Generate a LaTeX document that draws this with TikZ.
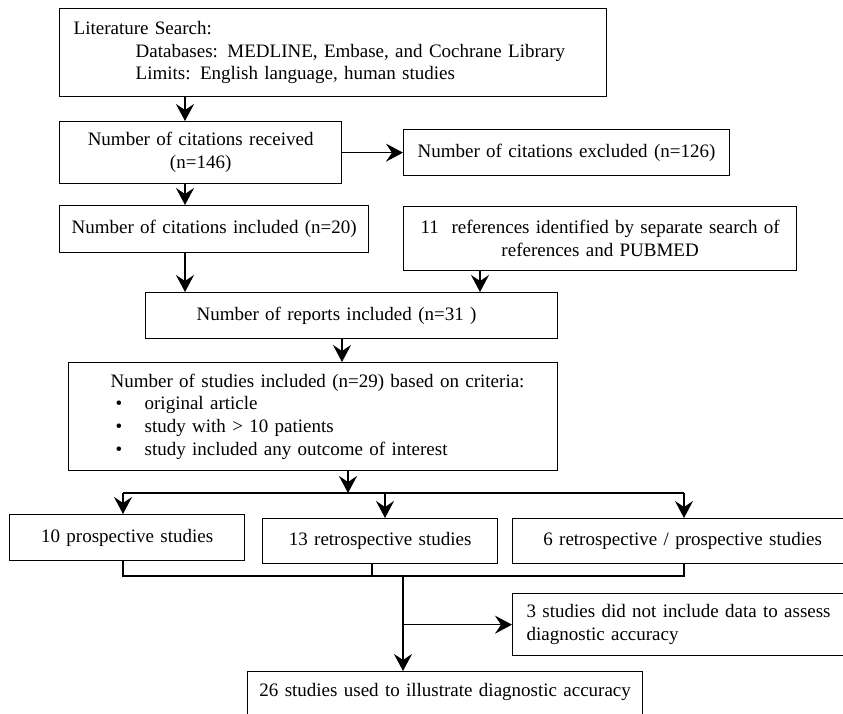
\documentclass[tikz,border=0pt]{standalone}
\usepackage{fontspec}
\setmainfont{Liberation Serif}
\usetikzlibrary{arrows.meta}
\tikzset{
  box/.style={draw, line width=1.3pt, inner sep=0pt, anchor=north west, font=\fontsize{19}{22.7}\selectfont},
  lbox/.style={box, align=left},
  cbox/.style={box, align=center},
  arr/.style={line width=1.5pt, -{Stealth[length=17pt,width=18pt,inset=6pt]}},
  ln/.style={line width=1.5pt},
}
\begin{document}
\begin{tikzpicture}[x=1pt,y=-1pt]
\useasboundingbox (0,0) rectangle (843,713);
\clip (0,0) rectangle (843,713);
% boxes
\node[lbox, minimum width=547pt, minimum height=88pt, text width=547pt] (lit) at (59,8)
  {\hspace*{14pt}Literature Search:\\
   \hspace*{76pt}Databases: MEDLINE, Embase, and Cochrane Library\\
   \hspace*{76pt}Limits: English language, human studies};
\node[cbox, minimum width=282pt, minimum height=62pt, text width=282pt] (recv) at (59,121)
  {Number of citations received\\(n=146)};
\node[lbox, minimum width=326pt, minimum height=46pt, text width=326pt] (excl) at (403,129)
  {\hspace*{14pt}Number of citations excluded (n=126)};
\node[cbox, minimum width=309pt, minimum height=47pt, text width=309pt] (incl) at (59,205)
  {Number of citations included (n=20)};
\node[cbox, minimum width=393pt, minimum height=64pt, text width=373pt] (refs) at (403,206)
  {11\ \ references identified by separate search of\\references and PUBMED};
\node[lbox, minimum width=412pt, minimum height=46pt, text width=412pt] (rep) at (145,292)
  {\hspace*{51pt}Number of reports included (n=31 )};
\node[lbox, minimum width=489pt, minimum height=108pt, text width=489pt] (stud) at (68,362)
  {\hspace*{42pt}Number of studies included (n=29) based on criteria:\\
   \hspace*{47pt}\makebox[29pt][l]{\textbullet}original article\\
   \hspace*{47pt}\makebox[29pt][l]{\textbullet}study with > 10 patients\\
   \hspace*{47pt}\makebox[29pt][l]{\textbullet}study included any outcome of interest};
\node[cbox, minimum width=235pt, minimum height=46pt, text width=235pt] (pro) at (9,514)
  {10 prospective studies};
\node[cbox, minimum width=235pt, minimum height=45pt, text width=235pt] (retro) at (262,518)
  {13 retrospective studies};
\node[cbox, minimum width=340pt, minimum height=45pt, text width=340pt] (both) at (512,518)
  {6 retrospective / prospective studies};
\node[lbox, minimum width=340pt, minimum height=62pt, text width=340pt] (nodata) at (512,593)
  {\hspace*{14pt}3 studies did not include data to assess\\\hspace*{14pt}diagnostic accuracy};
\node[cbox, text width=395pt, text height=25pt, text depth=40pt] (used) at (247,671)
  {26 studies used to illustrate diagnostic accuracy};
% helper coordinates
\coordinate (xa) at (185,0);
\coordinate (xb) at (480,0);
\coordinate (xc) at (342,0);
\coordinate (xd) at (348,493);
\coordinate (j1) at (123,493);
\coordinate (j2) at (684,493);
\coordinate (jm) at (385,493);
\coordinate (k1) at (123,576);
\coordinate (k2) at (684,576);
\coordinate (km) at (372,576);
\coordinate (m) at (403,576);
% connectors
\draw[arr] (lit.south -| xa) -- (recv.north -| xa);
\draw[arr] (recv.east) -- (excl.west);
\draw[arr] (recv.south -| xa) -- (incl.north -| xa);
\draw[arr] (incl.south -| xa) -- (rep.north -| xa);
\draw[arr] (refs.south -| xb) -- (rep.north -| xb);
\draw[arr] (rep.south -| xc) -- (stud.north -| xc);
\draw[arr] (stud.south -| xd) -- (xd);
\draw[ln] (j1) -- (j2);
\draw[arr] (j1) -- (pro.north -| j1);
\draw[arr] (jm) -- (retro.north -| jm);
\draw[arr] (j2) -- (both.north -| j2);
\draw[ln] (pro.south -| k1) -- (k1) -- (k2) -- (both.south -| k2);
\draw[ln] (retro.south -| km) -- (km);
\draw[arr] (m) -- (used.north -| m);
\draw[arr] (m |- nodata.west) -- (nodata.west);
\end{tikzpicture}
\end{document}
